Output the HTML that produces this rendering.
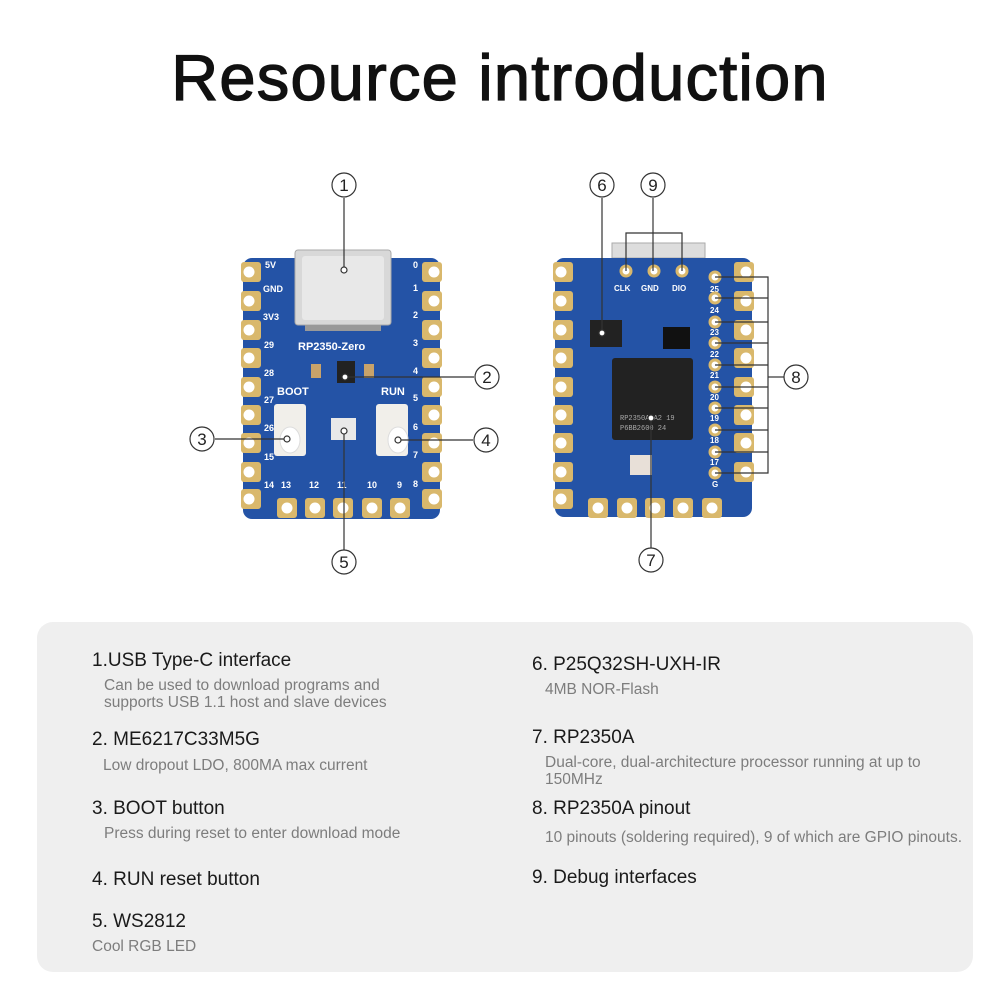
<!DOCTYPE html>
<html><head><meta charset="utf-8"><style>
*{margin:0;padding:0}
body{width:1000px;height:1000px;background:#fff;position:relative;overflow:hidden;font-family:"Liberation Sans",sans-serif}
.t{position:absolute;white-space:nowrap}
.h{font-size:19px;color:#1a1a1a}
.d{font-size:15.5px;color:#7d7d7d;line-height:17px}
#panel{position:absolute;left:37px;top:622px;width:936px;height:350px;background:#efefef;border-radius:16px}
svg{position:absolute;left:0;top:0}
</style></head><body>
<div class="t" style="left:0;width:1000px;text-align:center;top:40px;font-size:65px;color:#111;letter-spacing:1.2px;-webkit-text-stroke:1.3px #111">Resource introduction</div>
<svg width="1000" height="600" viewBox="0 0 1000 600" font-family="Liberation Sans, sans-serif">
<defs>
<g id="padL"><rect x="-2" y="-10" width="20" height="20" rx="3" fill="#d9b86c"/><circle cx="6" cy="0" r="5.5" fill="#fff"/></g>
<g id="padB"><rect x="-10" y="-2" width="20" height="20" rx="3" fill="#d9b86c"/><circle cx="0" cy="8" r="5.5" fill="#fff"/></g>
</defs>
<rect x="243" y="258" width="197" height="261" rx="9" fill="#2453a6"/>
<g>
<use href="#padL" x="243" y="272"/><use href="#padL" x="243" y="301"/><use href="#padL" x="243" y="330"/><use href="#padL" x="243" y="358"/><use href="#padL" x="243" y="387"/><use href="#padL" x="243" y="415"/><use href="#padL" x="243" y="443"/><use href="#padL" x="243" y="472"/><use href="#padL" x="243" y="499"/>
<g transform="translate(683,0) scale(-1,1)"><use href="#padL" x="243" y="272"/><use href="#padL" x="243" y="301"/><use href="#padL" x="243" y="330"/><use href="#padL" x="243" y="358"/><use href="#padL" x="243" y="387"/><use href="#padL" x="243" y="415"/><use href="#padL" x="243" y="443"/><use href="#padL" x="243" y="472"/><use href="#padL" x="243" y="499"/></g>
<use href="#padB" x="287" y="500"/><use href="#padB" x="315" y="500"/><use href="#padB" x="343" y="500"/><use href="#padB" x="372" y="500"/><use href="#padB" x="400" y="500"/>
</g>
<rect x="295" y="250" width="96" height="75" rx="3" fill="#d8d8d8" stroke="#aaa"/>
<rect x="302" y="256" width="82" height="64" rx="3" fill="#e8e8e8"/>
<rect x="305" y="325" width="76" height="6" fill="#999"/>
<g font-size="9" font-weight="bold" fill="#fff">
<text x="265" y="268">5V</text><text x="263" y="292">GND</text><text x="263" y="320">3V3</text><text x="264" y="348">29</text><text x="264" y="376">28</text><text x="264" y="403">27</text><text x="264" y="431">26</text><text x="264" y="460">15</text><text x="264" y="488">14</text>
<text x="413" y="268">0</text><text x="413" y="291">1</text><text x="413" y="318">2</text><text x="413" y="346">3</text><text x="413" y="374">4</text><text x="413" y="401">5</text><text x="413" y="430">6</text><text x="413" y="458">7</text><text x="413" y="487">8</text>
<text x="281" y="488">13</text><text x="309" y="488">12</text><text x="337" y="488">11</text><text x="367" y="488">10</text><text x="397" y="488">9</text>
<text x="298" y="350" font-size="11">RP2350-Zero</text><text x="277" y="395" font-size="11">BOOT</text><text x="381" y="395" font-size="11">RUN</text>
</g>
<rect x="337" y="361" width="18" height="22" fill="#222"/>
<rect x="311" y="364" width="10" height="14" fill="#c9a36a"/><rect x="364" y="364" width="10" height="14" fill="#c9a36a"/>
<rect x="274" y="404" width="32" height="52" rx="3" fill="#f1efea"/><ellipse cx="290" cy="440" rx="10" ry="13" fill="#fff" stroke="#ddd"/>
<rect x="376" y="404" width="32" height="52" rx="3" fill="#f1efea"/><ellipse cx="398" cy="440" rx="10" ry="13" fill="#fff" stroke="#ddd"/>
<rect x="331" y="418" width="25" height="22" fill="#e9e9e9"/>
<g stroke="#333" stroke-width="1.2" fill="none">
<line x1="344" y1="198" x2="344" y2="270"/><line x1="345" y1="377" x2="474" y2="377"/><line x1="215" y1="439" x2="287" y2="439"/><line x1="398" y1="440" x2="473" y2="440"/><line x1="344" y1="431" x2="344" y2="550"/>
<circle cx="344" cy="185" r="12"/><circle cx="487" cy="377" r="12"/><circle cx="202" cy="439" r="12"/><circle cx="486" cy="440" r="12"/><circle cx="344" cy="562" r="12"/>
<circle cx="344" cy="270" r="3" fill="#fff"/><circle cx="345" cy="377" r="3" fill="#fff"/><circle cx="287" cy="439" r="3" fill="#fff"/><circle cx="398" cy="440" r="3" fill="#fff"/><circle cx="344" cy="431" r="3" fill="#fff"/>
</g>
<g font-size="17" fill="#222" text-anchor="middle"><text x="344" y="191">1</text><text x="487" y="383">2</text><text x="202" y="445">3</text><text x="486" y="446">4</text><text x="344" y="568">5</text>
<text x="602" y="191">6</text><text x="653" y="191">9</text><text x="796" y="383">8</text><text x="651" y="566">7</text></g>
<rect x="612" y="243" width="93" height="15" fill="#ddd" stroke="#aaa"/>
<rect x="555" y="258" width="197" height="259" rx="9" fill="#2453a6"/>
<use href="#padL" x="555" y="272"/><use href="#padL" x="555" y="301"/><use href="#padL" x="555" y="330"/><use href="#padL" x="555" y="358"/><use href="#padL" x="555" y="387"/><use href="#padL" x="555" y="415"/><use href="#padL" x="555" y="443"/><use href="#padL" x="555" y="472"/><use href="#padL" x="555" y="499"/>
<g transform="translate(1307,0) scale(-1,1)"><use href="#padL" x="555" y="272"/><use href="#padL" x="555" y="301"/><use href="#padL" x="555" y="330"/><use href="#padL" x="555" y="358"/><use href="#padL" x="555" y="387"/><use href="#padL" x="555" y="415"/><use href="#padL" x="555" y="443"/><use href="#padL" x="555" y="472"/></g>
<use href="#padB" x="598" y="500"/><use href="#padB" x="627" y="500"/><use href="#padB" x="655" y="500"/><use href="#padB" x="683" y="500"/><use href="#padB" x="712" y="500"/>
<rect x="612" y="358" width="81" height="82" rx="3" fill="#222"/>
<text x="620" y="420" font-size="7" fill="#aaa" font-family="Liberation Mono">RP2350A0A2 19</text>
<text x="620" y="430" font-size="7" fill="#aaa" font-family="Liberation Mono">P6BB2600 24</text>
<rect x="590" y="320" width="32" height="27" fill="#222"/>
<rect x="663" y="327" width="27" height="22" fill="#111"/>
<rect x="630" y="455" width="22" height="20" fill="#e8e0d8"/>
<g font-size="8" font-weight="bold" fill="#fff"><text x="614" y="291">CLK</text><text x="641" y="291">GND</text><text x="672" y="291">DIO</text>
<text x="710" y="292">25</text><text x="710" y="313">24</text><text x="710" y="335">23</text><text x="710" y="357">22</text><text x="710" y="378">21</text><text x="710" y="400">20</text><text x="710" y="421">19</text><text x="710" y="443">18</text><text x="710" y="465">17</text><text x="712" y="487">G</text></g>
<g fill="#fff" stroke="#d9b86c" stroke-width="3"><circle cx="626" cy="271" r="5"/><circle cx="654" cy="271" r="5"/><circle cx="682" cy="271" r="5"/>
<circle cx="715" cy="277" r="5"/><circle cx="715" cy="298" r="5"/><circle cx="715" cy="322" r="5"/><circle cx="715" cy="343" r="5"/><circle cx="715" cy="365" r="5"/><circle cx="715" cy="387" r="5"/><circle cx="715" cy="408" r="5"/><circle cx="715" cy="430" r="5"/><circle cx="715" cy="452" r="5"/><circle cx="715" cy="473" r="5"/></g>
<g stroke="#333" stroke-width="1.2" fill="none">
<line x1="602" y1="198" x2="602" y2="333"/><circle cx="602" cy="185" r="12"/><circle cx="602" cy="333" r="3" fill="#fff"/>
<line x1="653" y1="198" x2="653" y2="271"/><polyline points="626,271 626,233 682,233 682,271"/><circle cx="653" cy="185" r="12"/>
<line x1="651" y1="418" x2="651" y2="548"/><circle cx="651" cy="560" r="12"/><circle cx="651" cy="418" r="3" fill="#fff"/>
<circle cx="796" cy="377" r="12"/><line x1="768" y1="377" x2="784" y2="377"/>
<polyline points="715,277 768,277 768,473 715,473"/>
<path d="M715 298H768M715 322H768M715 343H768M715 365H768M715 387H768M715 408H768M715 430H768M715 452H768"/>
</g>
</svg>
<div id="panel"></div>
<div class="t h" style="left:92px;top:650px">1.USB Type-C interface</div>
<div class="t d" style="left:104px;top:677px">Can be used to download programs and<br>supports USB 1.1 host and slave devices</div>
<div class="t h" style="left:92px;top:729px">2. ME6217C33M5G</div>
<div class="t d" style="left:103px;top:757px">Low dropout LDO, 800MA max current</div>
<div class="t h" style="left:92px;top:798px">3. BOOT button</div>
<div class="t d" style="left:104px;top:825px">Press during reset to enter download mode</div>
<div class="t h" style="left:92px;top:869px">4. RUN reset button</div>
<div class="t h" style="left:92px;top:911px">5. WS2812</div>
<div class="t d" style="left:92px;top:938px">Cool RGB LED</div>
<div class="t h" style="left:532px;top:654px">6. P25Q32SH-UXH-IR</div>
<div class="t d" style="left:545px;top:681px">4MB NOR-Flash</div>
<div class="t h" style="left:532px;top:727px">7. RP2350A</div>
<div class="t d" style="left:545px;top:754px">Dual-core, dual-architecture processor running at up to<br>150MHz</div>
<div class="t h" style="left:532px;top:798px">8. RP2350A pinout</div>
<div class="t d" style="left:545px;top:829px">10 pinouts (soldering required), 9 of which are GPIO pinouts.</div>
<div class="t h" style="left:532px;top:867px">9. Debug interfaces</div>
</body></html>
